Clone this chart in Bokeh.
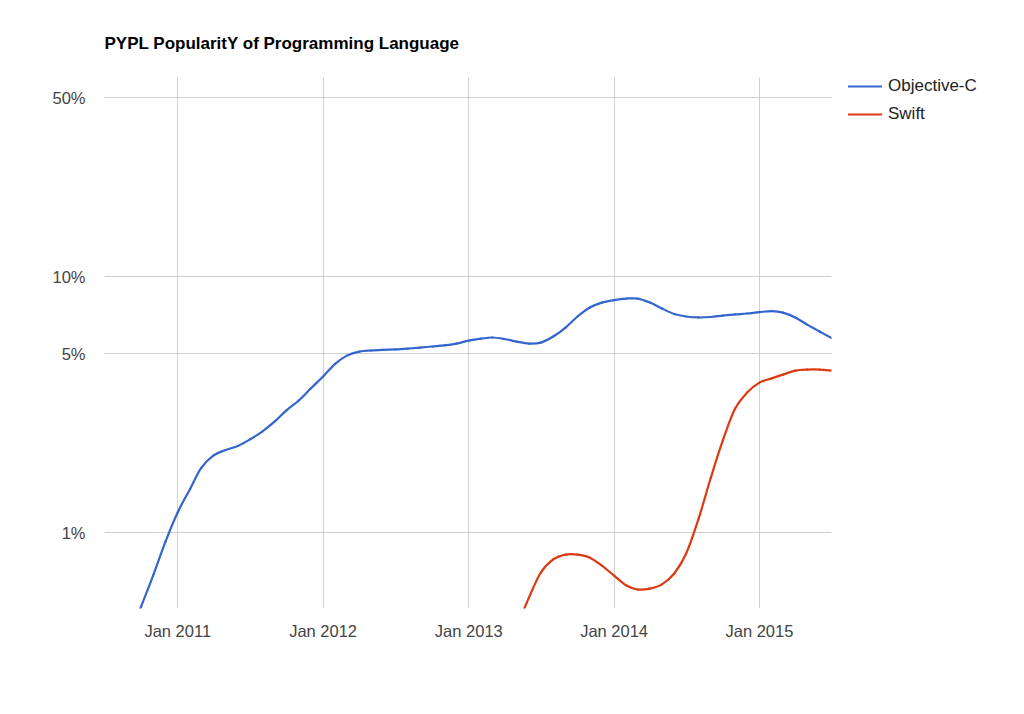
import math
import pandas as pd
from bokeh.plotting import figure
from bokeh.models import (Range1d, FixedTicker, DatetimeTickFormatter, Legend, LegendItem, Title)
from bokeh.embed import file_html
from bokeh.resources import INLINE

# ---- data (monthly, percent share) ----
months = pd.date_range("2010-07-01", "2015-07-01", freq="MS")

objective_c = [
    0.223, 0.294, 0.389, 0.514, 0.685, 0.92,            # Jul-Dec 2010
    1.20, 1.48, 1.79, 2.00, 2.10, 2.18,                 # Jan-Jun 2011
    2.31, 2.48, 2.71, 3.00, 3.28, 3.65,                 # Jul-Dec 2011
    4.07, 4.57, 4.91, 5.09, 5.14, 5.17,                 # Jan-Jun 2012
    5.19, 5.23, 5.28, 5.33, 5.38, 5.47,                 # Jul-Dec 2012
    5.62, 5.72, 5.78, 5.70, 5.57, 5.47,                 # Jan-Jun 2013
    5.52, 5.83, 6.32, 6.98, 7.57, 7.91,                 # Jul-Dec 2013
    8.09, 8.20, 8.20, 7.91, 7.50, 7.14,                 # Jan-Jun 2014
    6.98, 6.92, 6.95, 7.04, 7.11, 7.17,                 # Jul-Dec 2014
    7.26, 7.33, 7.23, 6.92, 6.49, 6.10,                 # Jan-Jun 2015
    5.75,                                               # Jul 2015
]

swift_months = months[33:]
swift = [
    0.331, 0.426, 0.557,                                # Apr-Jun 2013
    0.698, 0.785, 0.820, 0.820, 0.798, 0.743,           # Jul-Dec 2013
    0.679, 0.621, 0.599, 0.604, 0.627, 0.692,           # Jan-Jun 2014
    0.828, 1.13, 1.64, 2.29, 3.05, 3.52,                # Jul-Dec 2014
    3.85, 4.00, 4.14, 4.29, 4.33, 4.33,                 # Jan-Jun 2015
    4.29,                                               # Jul 2015
]

y_ticks = [1, 5, 10, 50]
y_labels = {1: "1%", 5: "5%", 10: "10%", 50: "50%"}
x_ticks = pd.to_datetime(["2011-01-01", "2012-01-01", "2013-01-01", "2014-01-01", "2015-01-01"])

series_names = ["Objective-C", "Swift"]
colors = ["#3366cc", "#dc3912"]

FONT = "Liberation Sans"


def smooth_segments(dates, vals):
    """Catmull-Rom through the data points (in time / log-value space) as cubic Bezier pieces."""
    xs = [d.value / 1e6 for d in dates]
    ys = [math.log10(v) for v in vals]
    n = len(xs)
    out = dict(x0=[], y0=[], x1=[], y1=[], cx0=[], cy0=[], cx1=[], cy1=[])
    for i in range(n - 1):
        i0, i3 = max(i - 1, 0), min(i + 2, n - 1)
        c0x = xs[i] + (xs[i + 1] - xs[i0]) / 6
        c0y = ys[i] + (ys[i + 1] - ys[i0]) / 6
        c1x = xs[i + 1] - (xs[i3] - xs[i]) / 6
        c1y = ys[i + 1] - (ys[i3] - ys[i]) / 6
        out["x0"].append(xs[i]); out["y0"].append(10 ** ys[i])
        out["x1"].append(xs[i + 1]); out["y1"].append(10 ** ys[i + 1])
        out["cx0"].append(c0x); out["cy0"].append(10 ** c0y)
        out["cx1"].append(c1x); out["cy1"].append(10 ** c1y)
    return out


p = figure(
    x_axis_type="datetime", y_axis_type="log",
    frame_width=727, frame_height=531,
    min_border_left=104, min_border_top=77, min_border_right=185, min_border_bottom=80,
    x_range=Range1d(pd.Timestamp("2010-07-01"), pd.Timestamp("2015-07-01")),
    y_range=Range1d(0.505, 59.9),
    output_backend="svg", toolbar_location=None,
    background_fill_color="white", border_fill_color="white",
)
p.outline_line_color = None

title = Title(text="PYPL PopularitY of Programming Language", align="left",
              text_font=FONT, text_font_size="17px", text_font_style="bold",
              text_color="#000000", standoff=50, offset=0)
p.add_layout(title, "above")

renderers = []
for dates, vals, col in ((months, objective_c, colors[0]), (swift_months, swift, colors[1])):
    seg = smooth_segments(dates, vals)
    r = p.bezier(x0=seg["x0"], y0=seg["y0"], x1=seg["x1"], y1=seg["y1"],
                 cx0=seg["cx0"], cy0=seg["cy0"], cx1=seg["cx1"], cy1=seg["cy1"],
                 line_color=col, line_width=2.2, line_cap="round")
    renderers.append(r)

# axes
p.yaxis.ticker = FixedTicker(ticks=y_ticks)
p.yaxis.major_label_overrides = y_labels
p.xaxis.ticker = FixedTicker(ticks=[t.value // 10**6 for t in x_ticks])
fmt = "%b %Y"
p.xaxis.formatter = DatetimeTickFormatter(days=fmt, months=fmt, years=fmt)

for ax in (p.xaxis, p.yaxis):
    ax.axis_line_color = None
    ax.major_tick_line_color = None
    ax.minor_tick_line_color = None
    ax.major_tick_out = 0
    ax.minor_tick_out = 0
    ax.major_label_text_font = FONT
    ax.major_label_text_font_size = "16.5px"
    ax.major_label_text_color = "#444444"
p.yaxis.major_label_standoff = 19
p.xaxis.major_label_standoff = 13

p.xgrid.ticker = p.xaxis.ticker
p.ygrid.ticker = p.yaxis.ticker
for g in (p.xgrid, p.ygrid):
    g.grid_line_color = "#d0d0d0"
    g.grid_line_width = 1
    g.minor_grid_line_color = None

legend = Legend(
    items=[LegendItem(label=series_names[0], renderers=[renderers[0]]),
           LegendItem(label=series_names[1], renderers=[renderers[1]])],
    location=(17, 484), padding=0, margin=0, spacing=8,
    glyph_width=34, glyph_height=20, label_height=20, label_standoff=6,
    label_text_font=FONT, label_text_font_size="17px", label_text_color="#222222",
    border_line_color=None, background_fill_alpha=0,
)
p.add_layout(legend, "right")

open("out.html", "w").write(file_html(p, INLINE))
